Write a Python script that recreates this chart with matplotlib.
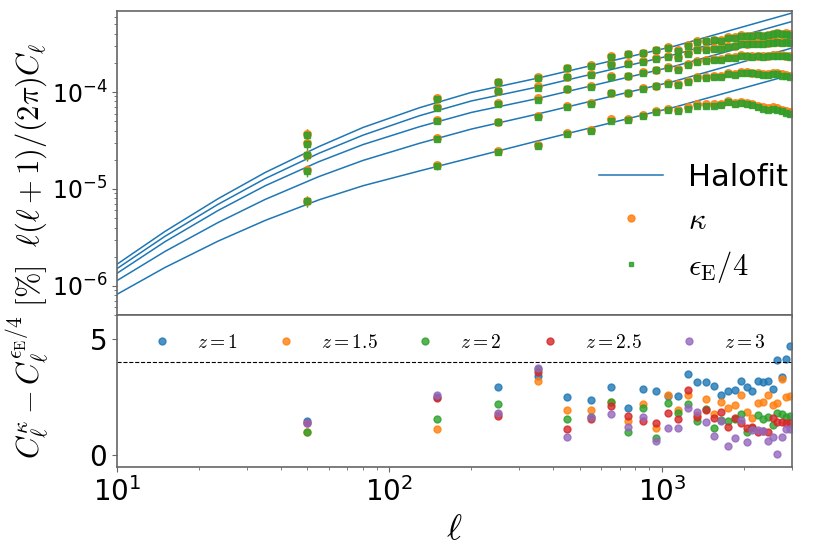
import numpy as np
import matplotlib
matplotlib.use('Agg')
import matplotlib.pyplot as plt
from matplotlib.ticker import FuncFormatter, LogLocator, NullFormatter

plt.rcParams['mathtext.fontset'] = 'cm'
plt.rcParams['font.family'] = ['DejaVu Sans']

# -----------------------------
# Data
# -----------------------------
z_labels = ['1', '1.5', '2', '2.5', '3']

# Halofit predictions, units of 1e-5, one list per redshift
ell_halofit = [10, 15, 23.5, 35, 55, 80, 129, 200, 350, 1117, 3000]
halofit_z1 = [0.082, 0.155, 0.290, 0.474, 0.771, 1.08, 1.535, 2.10, 3.13, 7.0, 15.1]
halofit_z15 = [0.1135, 0.227, 0.451, 0.781, 1.34, 1.97, 2.96, 4.15, 5.93, 12.97, 28.4]
halofit_z2 = [0.135, 0.286, 0.600, 1.08, 1.91, 2.87, 4.39, 6.16, 8.57, 18.5, 40.1]
halofit_z25 = [0.151, 0.325, 0.695, 1.28, 2.33, 3.59, 5.70, 8.09, 11.27, 24.4, 53.3]
halofit_z3 = [0.1675, 0.365, 0.794, 1.48, 2.73, 4.31, 6.89, 9.91, 13.9, 29.8, 65.2]

# measured band powers (kappa), units of 1e-5
ell_bins = [50, 150, 250, 350, 450, 550, 650, 750, 850, 950,
            1050, 1150, 1250, 1350, 1450, 1550, 1650, 1750, 1850, 1950,
            2050, 2150, 2250, 2350, 2450, 2550, 2650, 2750, 2850, 2950]
kappa_z1 = [0.757, 1.75, 2.48, 2.84, 3.75, 4.06, 5.23, 5.25, 5.79, 6.37,
            6.63, 6.52, 6.95, 7.46, 7.46, 7.46, 7.52, 8.08, 7.76, 7.94,
            7.76, 7.52, 7.18, 6.95, 6.79, 6.95, 6.79, 6.52, 6.37, 6.27]
kappa_z15 = [1.56, 3.33, 4.94, 5.66, 7.12, 7.76, 9.88, 9.88, 10.87, 11.6,
             12.5, 12.0, 13.07, 14.2, 14.4, 14.6, 14.7, 15.6, 15.3, 16.2,
             16.0, 15.8, 15.8, 15.3, 15.3, 15.8, 15.6, 15.3, 15.0, 14.6]
kappa_z2 = [2.24, 5.14, 7.65, 8.61, 10.81, 11.53, 14.5, 14.8, 15.9, 16.9,
            18.2, 17.3, 19.3, 20.9, 21.4, 21.7, 21.9, 22.8, 22.8, 24.1,
            23.7, 23.5, 23.7, 23.5, 23.7, 24.1, 24.1, 24.1, 23.7, 23.5]
kappa_z25 = [2.96, 6.95, 10.31, 11.53, 14.38, 15.34, 19.3, 19.9, 20.9, 22.3,
             23.5, 22.8, 25.4, 27.7, 27.7, 28.2, 28.6, 29.8, 30.0, 31.8,
             31.3, 31.8, 31.8, 31.8, 32.2, 32.5, 33.0, 32.5, 33.0, 32.5]
kappa_z3 = [3.69, 8.73, 12.77, 14.38, 17.81, 18.97, 23.6, 24.7, 25.5, 27.1,
            28.9, 27.1, 30.5, 33.6, 33.8, 34.4, 34.4, 36.6, 36.6, 38.7,
            38.0, 38.0, 38.7, 38.0, 38.7, 39.6, 40.3, 39.6, 40.3, 39.6]

# relative 1-sigma error bars
err_frac = [0.13, 0.07, 0.05, 0.045, 0.04, 0.035, 0.032, 0.03, 0.028, 0.026,
            0.025, 0.024, 0.023, 0.022, 0.021, 0.02, 0.02, 0.019, 0.019, 0.018,
            0.018, 0.017, 0.017, 0.017, 0.016, 0.016, 0.016, 0.015, 0.015, 0.015]

# percentage difference C^kappa - C^eps, per redshift
diff_z1 = [1.48, 2.50, 2.92, 3.40, 2.51, 2.37, 2.92, 2.01, 2.85, 2.77,
           2.55, 2.54, 3.48, 3.16, 3.13, 2.97, 2.59, 2.77, 2.80, 3.19,
           2.92, 2.77, 3.19, 3.13, 3.19, 2.86, 4.10, 3.35, 4.12, 4.70]
diff_z15 = [1.00, 1.12, 1.78, 3.20, 1.94, 1.94, 2.27, 1.47, 2.20, 1.15,
            2.57, 1.94, 2.59, 1.72, 2.41, 1.75, 2.30, 2.01, 2.16, 2.59,
            1.87, 1.62, 2.23, 2.30, 2.59, 2.18, 2.23, 3.30, 2.50, 2.56]
diff_z2 = [0.99, 1.55, 2.20, 3.72, 1.55, 1.65, 2.30, 0.98, 2.04, 0.75,
           2.26, 1.82, 2.20, 1.48, 1.97, 1.15, 1.51, 1.48, 1.54, 1.75,
           1.01, 1.15, 1.72, 1.54, 1.65, 1.29, 1.80, 1.75, 1.65, 1.68]
diff_z25 = [1.40, 2.44, 1.69, 3.59, 1.12, 1.55, 2.13, 1.68, 1.48, 1.37,
            1.82, 1.55, 2.80, 1.65, 1.94, 1.58, 1.87, 1.22, 1.62, 1.37,
            1.15, 1.19, 1.01, 1.05, 1.01, 1.62, 1.44, 1.44, 1.40, 1.40]
diff_z3 = [1.37, 2.59, 1.82, 3.76, 0.79, 1.63, 1.77, 1.22, 1.65, 0.60,
           1.18, 1.15, 2.01, 1.84, 1.44, 0.83, 1.48, 0.39, 0.72, 1.51,
           0.55, 1.08, 1.08, 1.05, 0.62, 0.79, 0.07, 0.79, 1.11, 1.11]

halofit = [halofit_z1, halofit_z15, halofit_z2, halofit_z25, halofit_z3]
kappa = [kappa_z1, kappa_z15, kappa_z2, kappa_z25, kappa_z3]
diffs = [diff_z1, diff_z15, diff_z2, diff_z25, diff_z3]

# -----------------------------
# Figure
# -----------------------------
fig = plt.figure(figsize=(8.3, 5.49), dpi=100)
gs = fig.add_gridspec(2, 1, height_ratios=[2, 1], hspace=0,
                      left=0.141, right=0.954, top=0.980, bottom=0.149)
ax1 = fig.add_subplot(gs[0])
ax2 = fig.add_subplot(gs[1], sharex=ax1)

ell_b = np.array(ell_bins)
err = np.array(err_frac)
for i in range(5):
    hf = np.array(halofit[i]) * 1e-5
    k = np.array(kappa[i]) * 1e-5
    e = k * (1 - np.array(diffs[i]) / 100.0)  # eps from kappa and the % difference
    ax1.plot(ell_halofit, hf, color='C0', lw=1.1,
             label='Halofit' if i == 0 else None)
    ax1.errorbar(ell_b, k, yerr=k * err, fmt='o', color='C1', ms=5.5,
                 elinewidth=1, alpha=0.85)
    ax1.errorbar(ell_b, e, yerr=e * err, fmt='s', color='C2', ms=3.8,
                 elinewidth=1, alpha=0.85)

# legend-only handles (markers without error bars)
ax1.plot([], [], 'o', color='C1', ms=5, alpha=0.85, label=r'$\kappa$')
ax1.plot([], [], 's', color='C2', ms=3.5, alpha=0.85, label=r'$\epsilon_{\rm E}/4$')

ax1.set_xscale('log')
ax1.set_yscale('log')
ax1.set_xlim(10, 3000)
ax1.set_ylim(5.0e-7, 6.85e-4)

sans_pow = FuncFormatter(lambda v, p: r'$\mathregular{10^{%d}}$' % round(np.log10(v)))
ax1.yaxis.set_major_locator(LogLocator(base=10, numticks=10))
ax1.yaxis.set_major_formatter(sans_pow)
ax1.yaxis.set_minor_formatter(NullFormatter())
ax1.tick_params(axis='y', labelsize=17)
plt.setp(ax1.get_xticklabels(), visible=False)

ax1.legend(loc='lower right', bbox_to_anchor=(1.035, 0.01), frameon=False,
           fontsize=22, handlelength=2.1, labelspacing=0.45)

# bottom panel: percentage differences
for i in range(5):
    ax2.plot(ell_b, diffs[i], 'o', color='C%d' % i, ms=5, alpha=0.8,
             label=r'$z=%s$' % z_labels[i])
ax2.axhline(4, color='k', ls='--', lw=0.8)
ax2.set_ylim(-0.52, 6.03)
ax2.set_yticks([0, 5])
ax2.xaxis.set_major_formatter(sans_pow)
ax2.xaxis.set_minor_formatter(NullFormatter())
ax2.tick_params(axis='both', labelsize=20)
ax2.legend(loc='upper center', ncol=5, frameon=False, fontsize=14,
           columnspacing=1.45)
ax2.set_xlabel(r'$\ell$', fontsize=26)

for ax in (ax1, ax2):
    for s in ax.spines.values():
        s.set_color('0.4')
        s.set_linewidth(1.2)
    ax.tick_params(which='both', color='0.4')

# one y label spanning both panels
fig.text(0.062, 0.543,
         r'$C_\ell^\kappa - C_\ell^{\epsilon_{\rm E}/4}\ [\%]\ \ \ell(\ell+1)/(2\pi)C_\ell$',
         rotation=90, ha='right', va='center', fontsize=22)

fig.savefig('out.png', dpi=100)
